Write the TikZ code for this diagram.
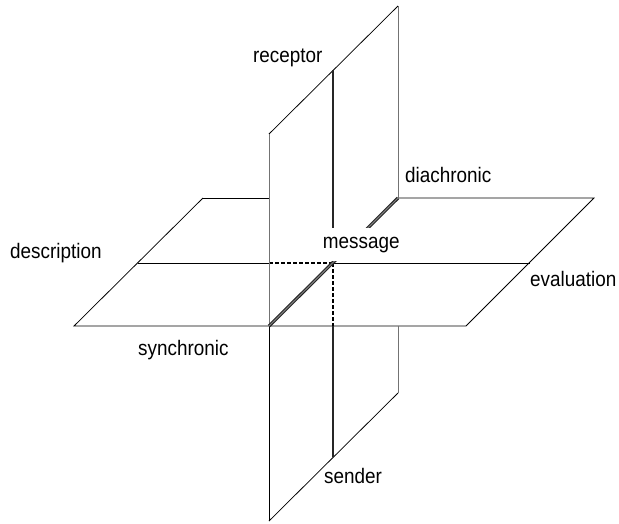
\documentclass[tikz,border=0pt]{standalone}
\usepackage{fontspec}
\setmainfont{Liberation Sans}
\begin{document}
\begin{tikzpicture}[x=1pt,y=-1pt,
  edge/.style={black,line width=0.75pt},
  vedge/.style={black!55,line width=1pt},
  mid/.style={black!85,line width=1.1pt},
  hid/.style={black,line width=1.2pt,dash pattern=on 4pt off 2pt},
  axis/.style={black!85,line width=1.1pt,double=black!50,double distance=1pt},
  lab/.style={anchor=base west,inner sep=0pt,font=\fontsize{21}{21}\selectfont,xscale=0.9}]
\useasboundingbox (0,0) rectangle (619,523);
% horizontal plane
\coordinate (A) at (74,326);
\coordinate (B) at (466,326);
\coordinate (C) at (594,198);
\coordinate (D) at (203,198);
\coordinate (M1) at (138,263);
\coordinate (M2) at (530,263);
% vertical plane
\coordinate (E) at (269,134);
\coordinate (F) at (269,521);
\coordinate (G) at (398,393);
\coordinate (K) at (398,6);
\coordinate (N1) at (333,70);
\coordinate (N2) at (333,457);
% intersections
\coordinate (P) at (269,326);
\coordinate (Q) at (398,198);
\coordinate (O) at (333,263);
\coordinate (Dv) at (269,198);
\coordinate (Mh) at (269,263);
\coordinate (Bv) at (398,326);
\coordinate (Mv) at (333,326);
% horizontal plane edges
\draw[edge] (D) -- (A) -- (B) -- (C) -- (Q);
\draw[edge] (D) -- (Dv);
\draw[edge] (M1) -- (Mh);
\draw[hid] (Mh) -- (O);
\draw[edge] (O) -- (M2);
% vertical plane edges
\draw[edge] (E) -- (K);
\draw[vedge] (K) -- (Q);
\draw[vedge] (Bv) -- (G);
\draw[edge] (G) -- (F);
\draw[edge] (F) -- (P);
\draw[vedge] (P) -- (E);
\draw[mid] (N1) -- (O);
\draw[hid] (O) -- (Mv);
\draw[mid] (Mv) -- (N2);
% intersection line
\draw[axis] (P) -- (Q);
% labels
\node[lab,fill=white,inner ysep=9pt,inner xsep=2pt] (message) at (321,248) {message};
\node[lab] (receptor) at (253,62) {receptor};
\node[lab] (diachronic) at (405,182) {diachronic};
\node[lab] (description) at (10,258) {description};
\node[lab] (evaluation) at (530,286) {evaluation};
\node[lab] (synchronic) at (138,355) {synchronic};
\node[lab] (sender) at (324,483) {sender};
\end{tikzpicture}
\end{document}
